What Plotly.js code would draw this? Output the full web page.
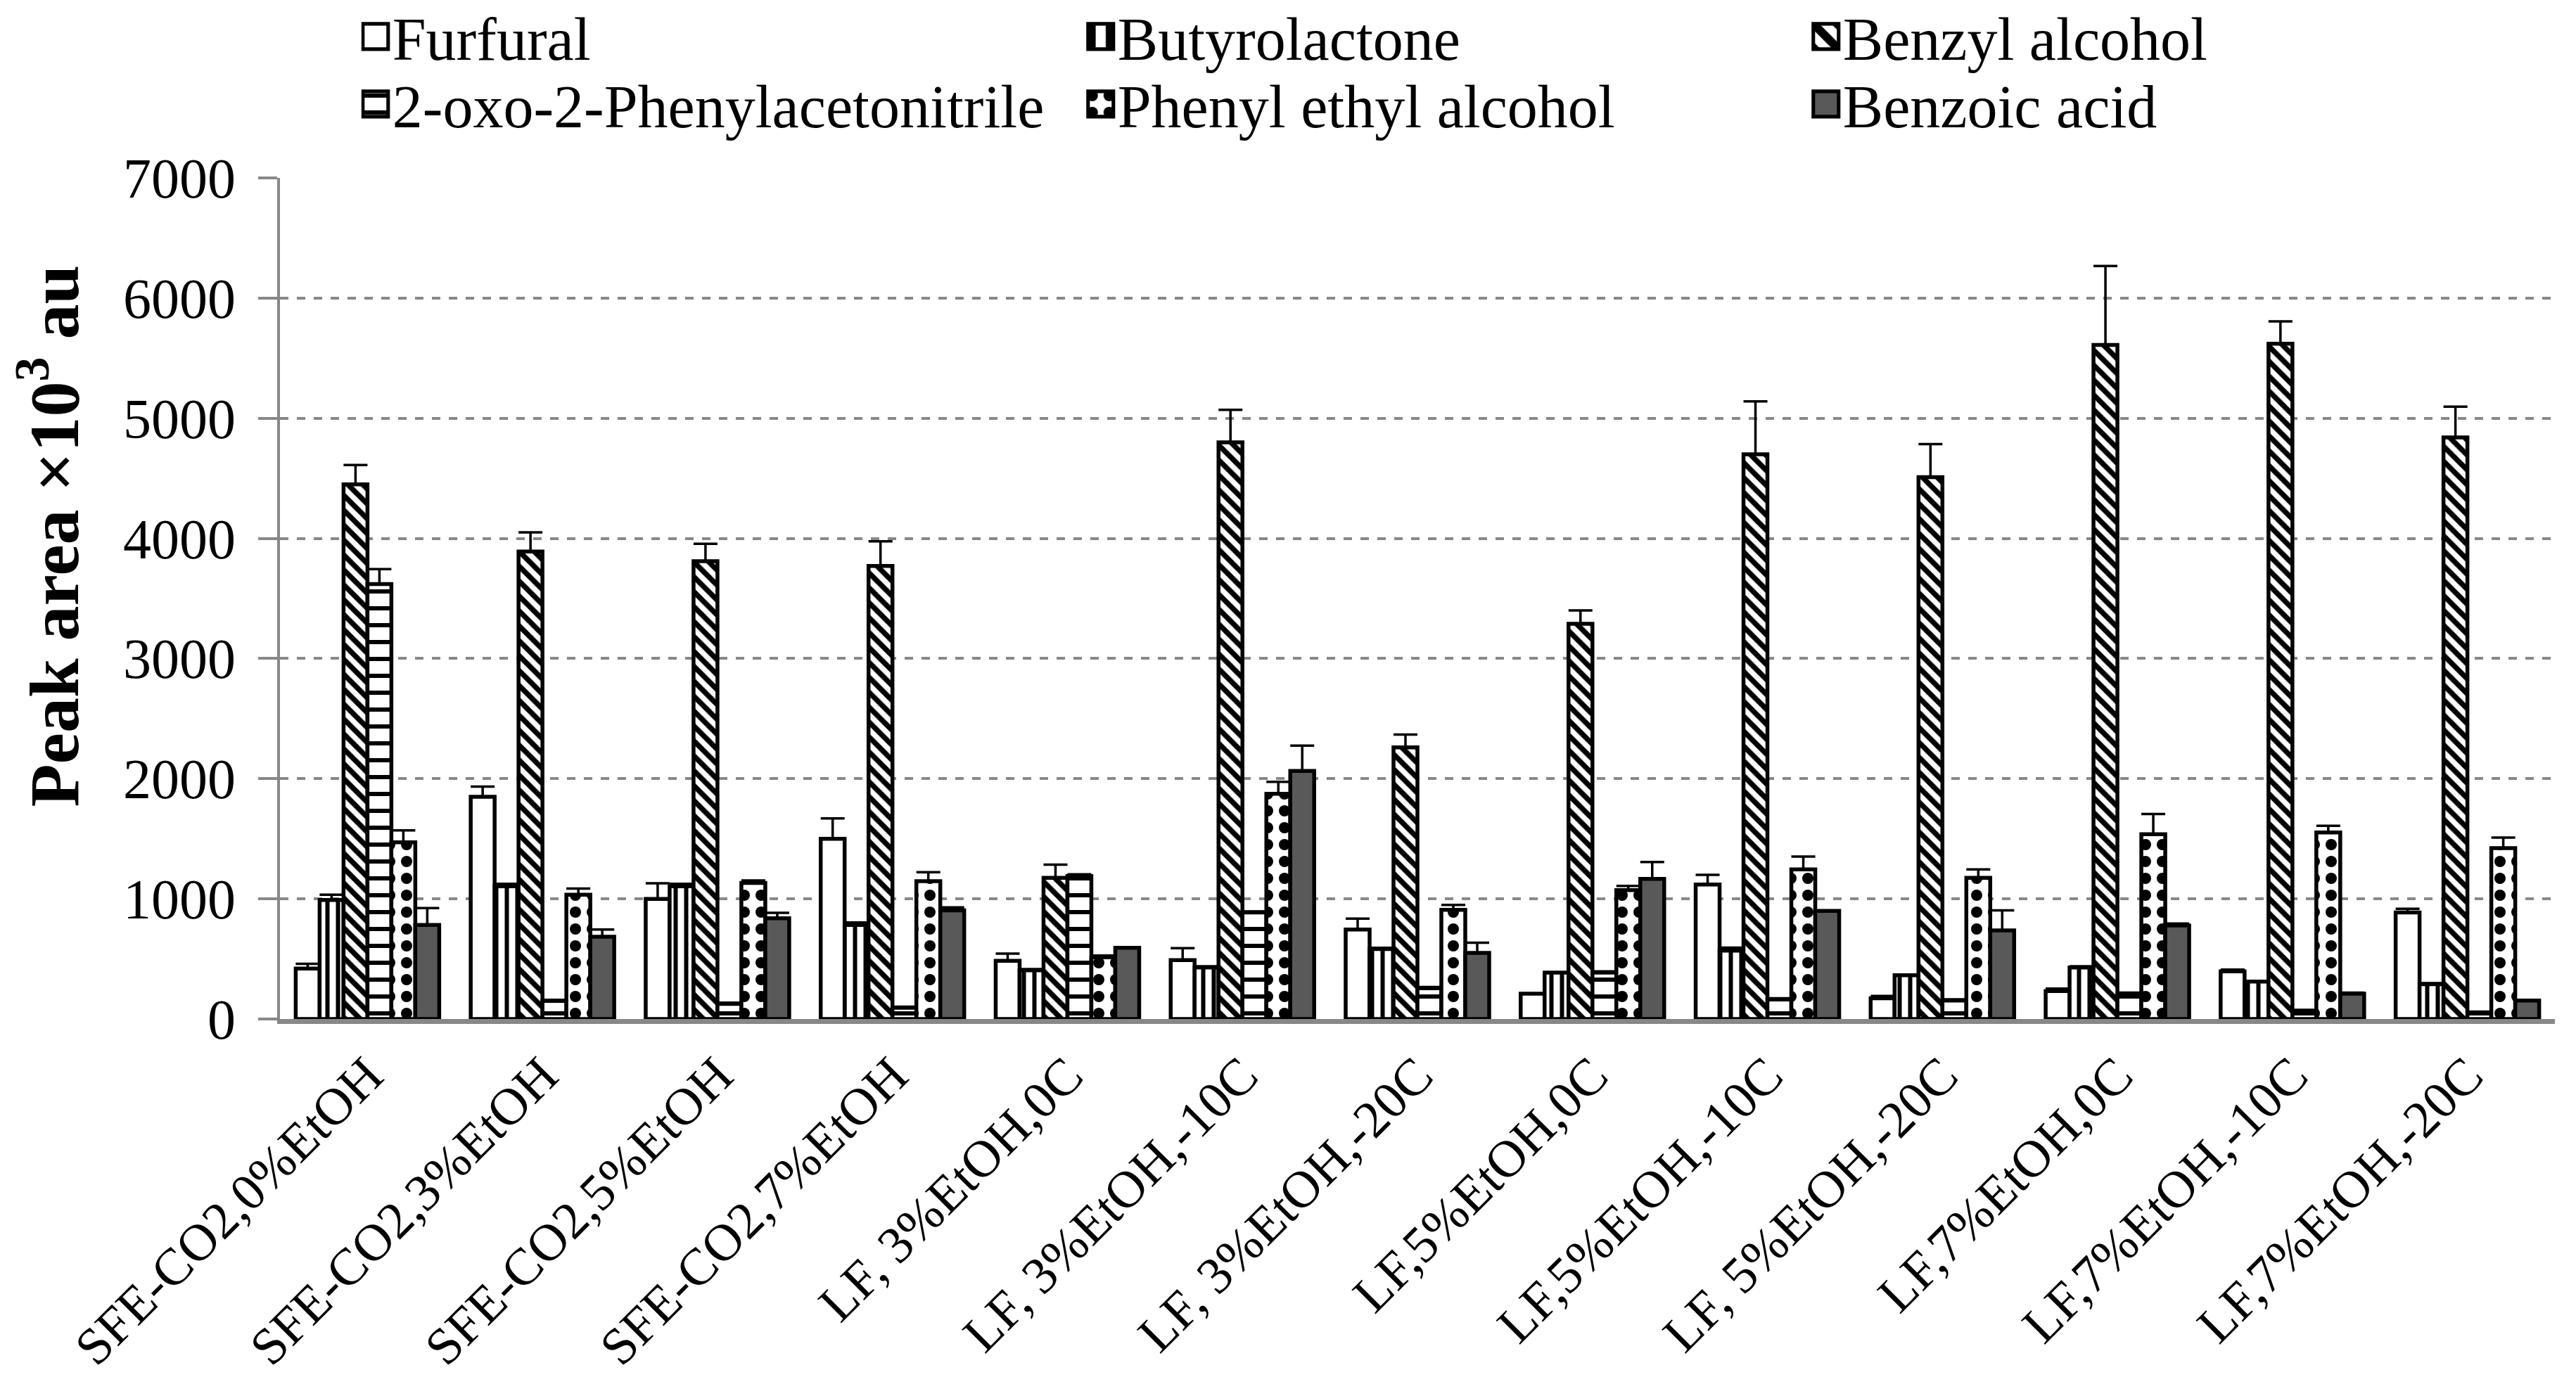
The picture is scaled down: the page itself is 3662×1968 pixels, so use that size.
<!DOCTYPE html>
<html>
<head>
<meta charset="utf-8">
<script src="https://cdn.plot.ly/plotly-3.0.1.min.js"></script>
<style>
    body { margin: 0; background: #ffffff; }
    #graph { width: 3662px; height: 1968px; }
    /* every label in the figure is set in a Times-like face */
    #graph text { font-family: "Liberation Serif", serif !important; }
    /* bigger legend swatches, like the boxed swatches of the original
       (keeps plotly's own translate(20,0) for the swatch) */
    #graph .legendpoints path {
        transform: translate(20px, 0px) scale(3);
        stroke-width: 1.7px !important;
    }
</style>
</head>
<body>
<div id="graph"></div>
<script>
/* ----------------Data---------------- */

var categories = [
    'SFE-CO2,0%EtOH', 'SFE-CO2,3%EtOH', 'SFE-CO2,5%EtOH', 'SFE-CO2,7%EtOH',
    'LF, 3%EtOH,0C', 'LF, 3%EtOH,-10C', 'LF, 3%EtOH,-20C',
    'LF,5%EtOH,0C', 'LF,5%EtOH,-10C', 'LF, 5%EtOH,-20C',
    'LF,7%EtOH,0C', 'LF,7%EtOH,-10C', 'LF,7%EtOH,-20C'
];

var seriesNames = ['Furfural', 'Butyrolactone', 'Benzyl alcohol',
    '2-oxo-2-Phenylacetonitrile', 'Phenyl ethyl alcohol', 'Benzoic acid'];

var furfural = [420, 1850, 1000, 1500, 485, 490, 745, 210, 1120, 172, 233, 396, 886];
var furfuralErr = [40, 85, 130, 170, 60, 100, 90, 0, 80, 20, 20, 15, 32];

var butyrolactone = [990, 1105, 1105, 783, 406, 429, 583, 387, 569, 364, 429, 312, 289];
var butyrolactoneErr = [45, 20, 20, 20, 10, 10, 10, 0, 25, 0, 10, 0, 10];

var benzylAlcohol = [4450, 3890, 3810, 3770, 1175, 4800, 2260, 3290, 4700, 4510, 5610, 5620, 4840];
var benzylAlcoholErr = [160, 160, 145, 205, 110, 270, 107, 110, 440, 275, 657, 186, 257];

var oxoNitrile = [3620, 150, 126, 93, 1189, 886, 256, 387, 163, 154, 210, 70, 56];
var oxoNitrileErr = [125, 10, 10, 10, 15, 10, 10, 10, 10, 10, 10, 0, 0];

var phenylEthyl = [1470, 1035, 1133, 1147, 513, 1874, 909, 1072, 1245, 1175, 1538, 1552, 1422];
var phenylEthylErr = [100, 50, 20, 75, 15, 100, 40, 35, 107, 70, 168, 56, 88];

var benzoicAcid = [783, 685, 839, 904, 592, 2065, 550, 1166, 900, 737, 779, 210, 154];
var benzoicAcidErr = [140, 60, 45, 25, 0, 210, 85, 140, 0, 167, 15, 10, 0];

var yTicks = [0, 1000, 2000, 3000, 4000, 5000, 6000, 7000];

/* ----------------Trace setup---------------- */

var FONT = 'Liberation Serif';

/**
 * Builds one bar trace with upward-only error bars.
 * The legend row (legend / legend2) is picked by the caller.
 */
function makeTrace(name, values, errors, fill, shape, size, solidity, legendId) {
    var zeros = values.map(function() { return 0; });
    var marker = {
        color: fill,
        line: { color: '#000000', width: 5.5 }
    };
    if (shape) {
        marker.pattern = {
            shape: shape,
            fgcolor: '#000000',
            bgcolor: '#ffffff',
            fillmode: 'replace',
            size: size,
            solidity: solidity
        };
    }
    return {
        type: 'bar',
        name: name,
        legend: legendId,
        x: categories,
        y: values,
        marker: marker,
        error_y: {
            type: 'data',
            symmetric: false,
            array: errors,
            arrayminus: zeros,
            color: '#000000',
            thickness: 3.5,
            width: 17
        }
    };
}

var data = [
    makeTrace(seriesNames[0], furfural, furfuralErr, '#ffffff', '', 0, 0, 'legend'),
    makeTrace(seriesNames[1], butyrolactone, butyrolactoneErr, '#ffffff', '|', 15, 0.4, 'legend'),
    makeTrace(seriesNames[2], benzylAlcohol, benzylAlcoholErr, '#ffffff', '\\', 15, 0.5, 'legend'),
    makeTrace(seriesNames[3], oxoNitrile, oxoNitrileErr, '#ffffff', '-', 24, 0.25, 'legend2'),
    makeTrace(seriesNames[4], phenylEthyl, phenylEthylErr, '#ffffff', '.', 24, 0.35, 'legend2'),
    makeTrace(seriesNames[5], benzoicAcid, benzoicAcidErr, '#595959', '', 0, 0, 'legend2')
];

/* one legend per row so the rows sit where the reference has them */
function legendRow(yPos) {
    return {
        orientation: 'h',
        x: 0.0358,
        xanchor: 'left',
        yref: 'container',
        y: yPos,
        yanchor: 'middle',
        entrywidth: 982,
        font: { family: FONT, size: 86, color: '#000000' },
        itemwidth: 34,
        bgcolor: 'rgba(0,0,0,0)'
    };
}

var layout = {
    width: 3662,
    height: 1968,
    paper_bgcolor: '#ffffff',
    plot_bgcolor: '#ffffff',
    font: { family: FONT, color: '#000000', size: 76 },
    margin: { l: 398, r: 30, t: 253, b: 519 },
    barmode: 'group',
    bargap: 0.18,
    bargroupgap: 0,
    showlegend: true,
    legend: legendRow(0.9736),
    legend2: legendRow(0.9248),
    xaxis: {
        type: 'category',
        tickangle: -45,
        tickfont: { family: FONT, size: 74 },
        showline: true,
        linecolor: '#888888',
        linewidth: 7,
        showgrid: false,
        ticks: '',
        automargin: false
    },
    yaxis: {
        range: [0, 7000],
        autorange: false,
        tickvals: yTicks,
        tickfont: { family: FONT, size: 80 },
        ticklabelstandoff: 16,
        showline: true,
        linecolor: '#888888',
        linewidth: 4,
        ticks: 'outside',
        ticklen: 27,
        tickwidth: 4,
        tickcolor: '#888888',
        showgrid: true,
        gridcolor: '#888888',
        gridwidth: 4,
        griddash: 'dash',
        zeroline: false,
        automargin: false
    },
    // y title sits a little above the middle of the axis in the original,
    // so it is placed as a rotated annotation
    annotations: [{
        text: '<b>Peak area ×10<sup>3</sup> au</b>',
        textangle: -90,
        xref: 'paper',
        x: 0,
        xanchor: 'center',
        xshift: -328,
        yref: 'paper',
        y: 0.574,
        yanchor: 'middle',
        borderpad: 0,
        showarrow: false,
        font: { family: FONT, size: 100, color: '#000000' }
    }]
};

var graph = document.getElementById('graph');
Plotly.newPlot(graph, data, layout, { staticPlot: true });
</script>
</body>
</html>
